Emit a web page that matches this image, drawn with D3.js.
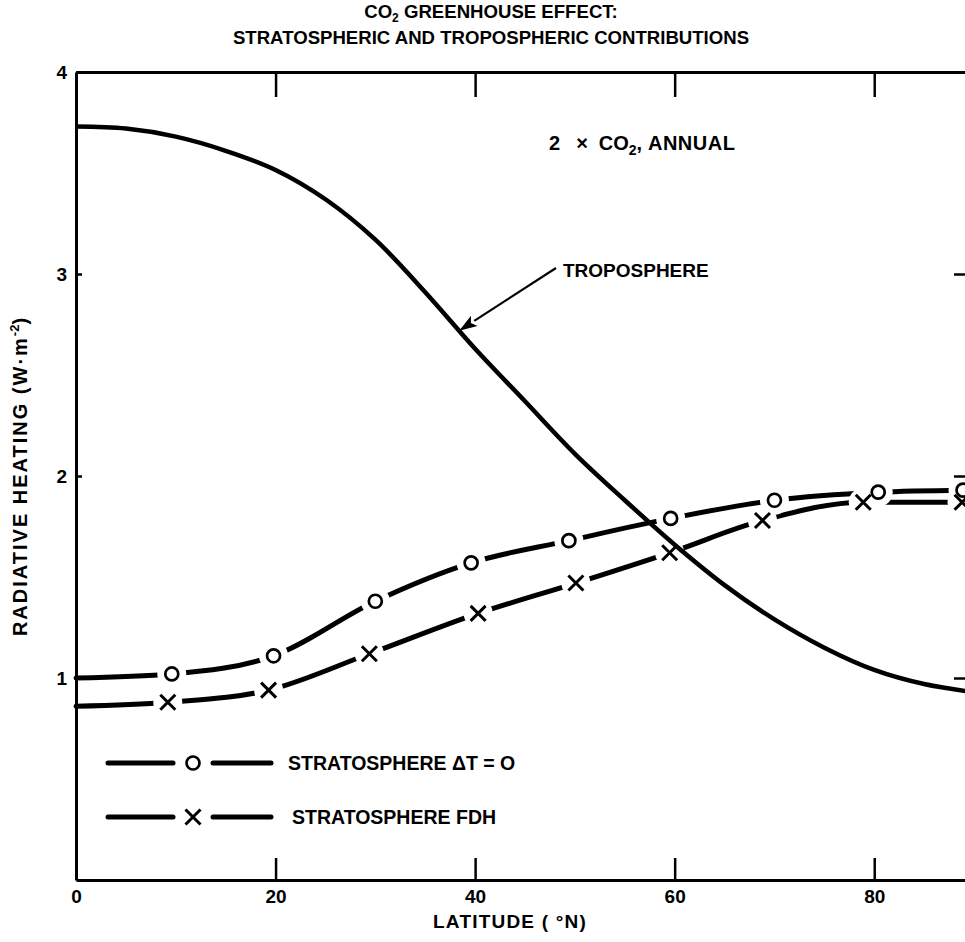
<!DOCTYPE html>
<html>
<head>
<meta charset="utf-8">
<script src="https://cdn.jsdelivr.net/npm/d3@7"></script>
<style>
  html, body { margin: 0; padding: 0; background: #fff; }
  svg { display: block; }
  text { font-family: "Liberation Sans", Arial, Helvetica, sans-serif; font-weight: bold; fill: #000; }
</style>
</head>
<body>
<svg id="chart" width="965" height="942"></svg>
<script>
// Latitude ticks and radiative heating ticks
const xTicks = [0, 20, 40, 60, 80];
const yTicks = [1, 2, 3, 4];

// Troposphere contribution (W·m-2) by latitude (°N)
const tropLat = [0, 5, 10, 15, 20, 25, 30, 35, 40, 45, 50, 55, 60, 65, 70, 75, 80, 85, 90];
const tropVal = [3.73, 3.72, 3.68, 3.61, 3.515, 3.37, 3.17, 2.91, 2.63, 2.37, 2.11, 1.88, 1.66, 1.46, 1.29, 1.15, 1.04, 0.97, 0.93];

// Stratosphere, ΔT = 0 (first point is the curve start at the equator, no marker)
const dt0Lat = [0, 9.6, 19.8, 30.0, 39.6, 49.4, 59.6, 70.0, 80.4, 88.9];
const dt0Val = [1.00, 1.02, 1.11, 1.38, 1.57, 1.68, 1.79, 1.88, 1.92, 1.93];

// Stratosphere, fixed dynamical heating
const fdhLat = [0, 9.2, 19.3, 29.4, 40.3, 50.1, 59.5, 68.8, 78.9, 88.8];
const fdhVal = [0.86, 0.88, 0.94, 1.12, 1.32, 1.47, 1.62, 1.78, 1.87, 1.87];

// Latitude the TROPOSPHERE arrow points at
const arrowLat = 38.4;

const svg = d3.select("#chart");
const x = d3.scaleLinear().domain([0, 90]).range([76, 974]);
const y = d3.scaleLinear().domain([0, 4]).range([880, 72]);

const tropPts = tropLat.map((d, i) => [d, tropVal[i]]);
const dt0Pts = dt0Lat.map((d, i) => [d, dt0Val[i]]);
const fdhPts = fdhLat.map((d, i) => [d, fdhVal[i]]);

const stratLine = d3.line().x(d => x(d[0])).y(d => y(d[1])).curve(d3.curveMonotoneX);
const tropLine = d3.line().x(d => x(d[0])).y(d => y(d[1])).curve(d3.curveCatmullRom.alpha(0.5));

// Stratospheric curves
const strat = svg.append("g");
[dt0Pts, fdhPts].forEach(pts => {
  strat.append("path").attr("d", stratLine(pts))
    .attr("fill", "none").attr("stroke", "#000")
    .attr("stroke-width", 5).attr("stroke-linecap", "round");
});

// Gaps in the stratospheric curves around each marker
const gaps = svg.append("g");
[dt0Pts, fdhPts].forEach(pts => {
  gaps.selectAll(null).data(pts.slice(1)).enter().append("circle")
    .attr("cx", d => x(d[0])).attr("cy", d => y(d[1])).attr("r", 14.5)
    .attr("fill", "#fff");
});

// Markers
function drawCircle(g, cx, cy) {
  g.append("circle").attr("cx", cx).attr("cy", cy).attr("r", 6.5)
    .attr("fill", "none").attr("stroke", "#000").attr("stroke-width", 2.7);
}
function drawCross(g, cx, cy) {
  const s = 7.5;
  g.append("path")
    .attr("d", `M${cx - s},${cy - s}L${cx + s},${cy + s}M${cx - s},${cy + s}L${cx + s},${cy - s}`)
    .attr("stroke", "#000").attr("stroke-width", 3).attr("fill", "none");
}
const marks = svg.append("g");
dt0Pts.slice(1).forEach(d => drawCircle(marks, x(d[0]), y(d[1])));
fdhPts.slice(1).forEach(d => drawCross(marks, x(d[0]), y(d[1])));

// Troposphere curve
svg.append("path").attr("d", tropLine(tropPts))
  .attr("fill", "none").attr("stroke", "#000").attr("stroke-width", 4.5);

// Axes
const axisStyle = g => {
  g.selectAll(".domain").attr("stroke", "#000").attr("stroke-width", 3);
  g.selectAll(".tick line").attr("stroke", "#000").attr("stroke-width", 2.5);
  g.selectAll(".tick text").style("font-size", "19px").style("font-family", '"Liberation Sans", Arial, sans-serif').style("font-weight", "bold");
};

svg.append("g").attr("transform", `translate(0,${y(0)})`)
  .call(d3.axisBottom(x).tickValues(xTicks).tickFormat(d3.format("d")).tickSizeInner(-22).tickSizeOuter(0).tickPadding(10))
  .call(axisStyle)
  .call(g => g.selectAll(".tick").filter(d => d === 0).select("line").remove());

svg.append("g").attr("transform", `translate(0,${y(4)})`)
  .call(d3.axisTop(x).tickValues(xTicks.filter(d => d > 0)).tickFormat("").tickSizeInner(-25).tickSizeOuter(0))
  .call(axisStyle);

svg.append("g").attr("transform", `translate(${x(0)},0)`)
  .call(d3.axisLeft(y).tickValues(yTicks).tickFormat(d3.format("d")).tickSizeInner(-6).tickSizeOuter(0).tickPadding(9))
  .call(axisStyle);

svg.append("g").attr("transform", `translate(${x(90)},0)`)
  .call(d3.axisRight(y).tickValues(yTicks).tickFormat("").tickSizeInner(-20).tickSizeOuter(0))
  .call(axisStyle);

// Title
const title = svg.append("text").attr("x", 491).attr("y", 18).attr("text-anchor", "middle").style("font-size", "18.6px");
title.append("tspan").text("CO");
title.append("tspan").text("2").style("font-size", "12px").attr("dy", 4);
title.append("tspan").text(" GREENHOUSE EFFECT:").attr("dy", -4);
svg.append("text").attr("x", 491).attr("y", 44).attr("text-anchor", "middle").style("font-size", "18.6px")
  .text("STRATOSPHERIC AND TROPOSPHERIC CONTRIBUTIONS");

// Axis titles
svg.append("text").attr("x", 510).attr("y", 928).attr("text-anchor", "middle")
  .style("font-size", "19px").style("letter-spacing", "1.2px")
  .text("LATITUDE ( °N)");

const yl = svg.append("text").attr("transform", "translate(27,476) rotate(-90)").attr("text-anchor", "middle")
  .style("font-size", "20px").style("letter-spacing", "2px");
yl.append("tspan").text("RADIATIVE HEATING (W·m");
yl.append("tspan").text("-2").style("font-size", "13px").style("letter-spacing", "0px").attr("dy", -8);
yl.append("tspan").text(")").attr("dy", 8);

// Case label
const cl = svg.append("text").attr("x", 549).attr("y", 150).style("font-size", "20px");
cl.append("tspan").text("2");
cl.append("tspan").text("×").attr("dx", 16);
cl.append("tspan").text("CO").attr("dx", 11);
cl.append("tspan").text("2").style("font-size", "14px").attr("dy", 5);
cl.append("tspan").text(", ANNUAL").attr("dy", -5).style("letter-spacing", "0.5px");

// TROPOSPHERE annotation with arrow
svg.append("text").attr("x", 563).attr("y", 277).style("font-size", "19px").text("TROPOSPHERE");
{
  const tropAt = d3.scaleLinear().domain(tropLat).range(tropVal);
  const tx = x(arrowLat), ty = y(tropAt(arrowLat));
  const sx = 556, sy = 268;
  const ang = Math.atan2(ty - sy, tx - sx);
  const L = 18, Wd = 6;
  const bx = tx - L * Math.cos(ang), by = ty - L * Math.sin(ang);
  svg.append("line").attr("x1", sx).attr("y1", sy).attr("x2", bx).attr("y2", by)
    .attr("stroke", "#000").attr("stroke-width", 2.2);
  svg.append("path")
    .attr("d", `M${tx},${ty}L${bx + Wd * Math.sin(ang)},${by - Wd * Math.cos(ang)}L${bx + 4 * Math.cos(ang)},${by + 4 * Math.sin(ang)}L${bx - Wd * Math.sin(ang)},${by + Wd * Math.cos(ang)}Z`)
    .attr("fill", "#000");
}

// Legend
const legendRows = [
  { y: 763, label: "STRATOSPHERE ΔT = O", mark: drawCircle, tx: 288 },
  { y: 817, label: "STRATOSPHERE FDH", mark: drawCross, tx: 292 }
];
const lg = svg.append("g");
legendRows.forEach(r => {
  lg.append("line").attr("x1", 108).attr("x2", 173).attr("y1", r.y).attr("y2", r.y)
    .attr("stroke", "#000").attr("stroke-width", 5).attr("stroke-linecap", "round");
  r.mark(lg, 193, r.y);
  lg.append("line").attr("x1", 213).attr("x2", 271).attr("y1", r.y).attr("y2", r.y)
    .attr("stroke", "#000").attr("stroke-width", 5).attr("stroke-linecap", "round");
  lg.append("text").attr("x", r.tx).attr("y", r.y + 7).style("font-size", "19.5px").text(r.label);
});
</script>
</body>
</html>
